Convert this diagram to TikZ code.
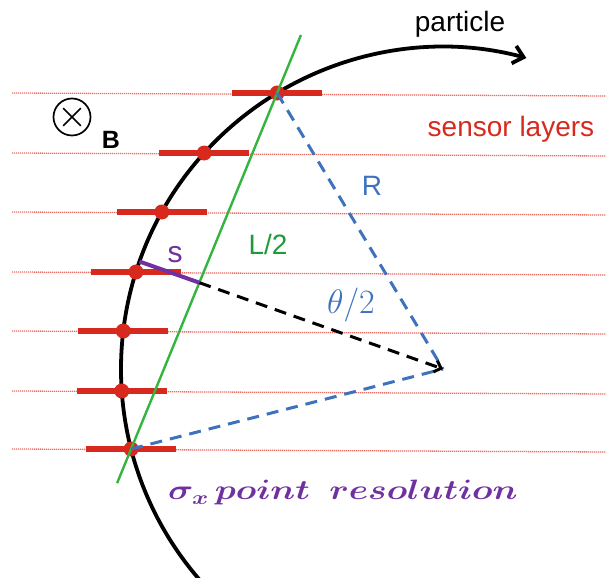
\RequirePackage{fix-cm}
\documentclass[tikz,border=0pt]{standalone}
\usepackage{amsmath,amssymb,bm,graphicx}
\usepackage{fontspec}
\setmainfont{Liberation Sans}
\usetikzlibrary{arrows.meta,calc}
\definecolor{sensorred}{HTML}{D7291E}
\definecolor{layerred}{HTML}{E86E66}
\definecolor{chordgreen}{HTML}{33B53F}
\definecolor{labelgreen}{HTML}{1F9A3A}
\definecolor{radblue}{HTML}{3F72BE}
\definecolor{sagpurple}{HTML}{7030A0}
\tikzset{
  layer/.style={draw=layerred, line width=1.3pt, dash pattern=on 1.2pt off 0.8pt},
  track/.style={draw=black, line width=3.8pt, -{Straight Barb[length=10pt, width=18pt]}},
  sensor/.style={draw=sensorred, line width=6pt},
  hitdot/.style={fill=sensorred},
  chord/.style={draw=chordgreen, line width=2.4pt},
  rline/.style={draw=radblue, line width=3pt, dash pattern=on 12pt off 8pt},
  sagline/.style={draw=black, line width=3pt, dash pattern=on 12pt off 8pt,
                  -{Straight Barb[length=6pt, width=12pt]}},
  sagitta/.style={draw=sagpurple, line width=4pt},
  lbl/.style={font=\fontsize{28}{30}\selectfont, inner sep=0pt},
  reslbl/.style={font=\fontsize{28}{30}\selectfont, text=sagpurple, inner sep=0pt}
}
\newcommand{\resmath}{\scalebox{1.25}[1]{$\bm{\sigma_x}\,\bm{point}\ \ \bm{resolution}$}}

\begin{document}
\begin{tikzpicture}[x=1pt, y=1pt]
  \useasboundingbox (0,0) rectangle (606,578);
  \coordinate (O) at (443,209);

  % sensor planes
  \foreach \Y in {485,425,366,306,247,187,129}
    \draw[layer] (12,\Y) -- (606,\Y-3);

  % particle track, centre O
  \draw[track] (O) ++ (222:322) arc[start angle=222, end angle=75, radius=322];

  \foreach \Y [count=\i] in {485,425,366,306,247,187,129} {
    \path (O) ++ ({180-asin((\Y-209)/322)}:322) coordinate (hit\i);
    \draw[sensor] ($(hit\i)+(-45,0)$) -- ($(hit\i)+(45,0)$);
    \fill[hitdot] (hit\i) circle[radius=7.5];
  }

  \draw[chord] ($(hit1)!-0.163!(hit7)$) -- ($(hit7)!-0.096!(hit1)$);
  \path (O) ++ (160.5:322) coordinate (sag);
  \coordinate (mid) at (intersection of O--sag and hit1--hit7);

  \draw[rline] (hit1) -- (O);
  \draw[rline] (hit7) -- (O);
  \draw[sagline] (mid) -- (O);
  \draw[sagitta] (sag) -- (mid);

  \node[lbl, anchor=base] (ptext) at (460,546) {particle};
  \node[lbl, text=sensorred, anchor=base] (layertext) at (511,441) {sensor layers};
  \node[lbl, text=radblue] (rtext) at (372,392) {R};
  \node[lbl, text=labelgreen] (ltext) at (268,334) {L/2};
  \node[lbl, text=sagpurple, font=\fontsize{30}{32}\selectfont] (stext) at (175,323) {s};
  \node[lbl, text=radblue, font=\fontsize{34}{36}\selectfont] (thtext) at (351,273) {$\theta/2$};
  \node[reslbl, anchor=base west] (restext) at (168,78) {\resmath};

  % field into the page
  \node[draw, circle, minimum size=37pt, line width=1.7pt, inner sep=0pt] (bfield) at (72,461) {};
  \draw[line width=1.7pt] (bfield.center) +(45:12.5) -- +(225:12.5)
                          (bfield.center) +(135:12.5) -- +(-45:12.5);
  \node[font=\bfseries\fontsize{25}{27}\selectfont, inner sep=0pt] (btext) at (111,438) {B};
\end{tikzpicture}
\end{document}
